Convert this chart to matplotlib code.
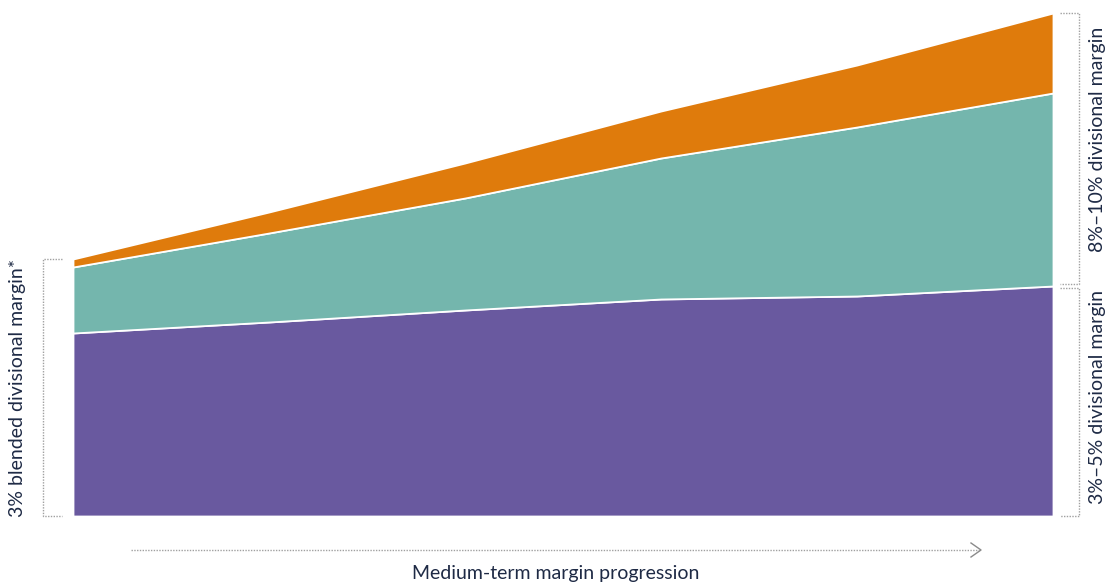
import matplotlib
matplotlib.use("Agg")
import matplotlib.pyplot as plt
from matplotlib.lines import Line2D

# ---- data (arbitrary units) ----
steps = [0, 1, 2, 3, 4, 5]
purple_layer = [183, 194, 206, 217, 220, 230]   # 3%-5% divisional margin base
teal_layer = [66, 89, 112, 141, 169, 193]
orange_layer = [8, 21, 35, 47, 62, 80]

left_label = "3% blended divisional margin*"
right_top_label = "8%\u201310% divisional margin"
right_bottom_label = "3%\u20135% divisional margin"
x_label = "Medium-term margin progression"

colors = ["#69599F", "#74B6AD", "#DF7B0C"]
text_color = "#1E2A45"
dot_color = "#A0A0A0"

W, H = 1108, 585
plt.rcParams['font.family'] = ['Lato', 'DejaVu Sans']
fig = plt.figure(figsize=(W / 100, H / 100), dpi=100)

x0, x1, yb = 73, 1053, 516
ax = fig.add_axes([x0 / W, (H - yb) / H, (x1 - x0) / W, yb / H])
ax.stackplot(steps, purple_layer, teal_layer, orange_layer, colors=colors,
             edgecolor="white", linewidth=1.3)
ax.set_xlim(steps[0], steps[-1])
ax.set_ylim(0, yb)
ax.axis("off")


def fx(px):
    return px / W


def fy(py):
    return (H - py) / H


def dline(xs, ys, **kw):
    fig.add_artist(Line2D([fx(v) for v in xs], [fy(v) for v in ys],
                          transform=fig.transFigure, color=dot_color,
                          linewidth=1.0, linestyle=(0, (1, 1)), **kw))


# pixel positions of stack tops for brackets
top_left = yb - (purple_layer[0] + teal_layer[0] + orange_layer[0])
top_right = yb - (purple_layer[-1] + teal_layer[-1] + orange_layer[-1])
mid_right = yb - purple_layer[-1]

# left bracket
dline([62, 43, 43, 62], [top_left, top_left, yb, yb])
# right brackets
dline([1060, 1079, 1079, 1060], [top_right, top_right, mid_right - 2, mid_right - 2])
dline([1060, 1079, 1079, 1060], [mid_right + 2, mid_right + 2, yb, yb])

fs = 14
fig.text(fx(18), fy(388), left_label, rotation=90,
         ha="center", va="center", fontsize=fs, color=text_color)
fig.text(fx(1097), fy(139), right_top_label, rotation=90,
         ha="center", va="center", fontsize=fs, color=text_color)
fig.text(fx(1097), fy(397), right_bottom_label, rotation=90,
         ha="center", va="center", fontsize=fs, color=text_color)

# arrow
dline([131, 979], [550, 550])
fig.add_artist(Line2D([fx(971), fx(981), fx(971)], [fy(543), fy(550), fy(557)],
                      transform=fig.transFigure, color="#8a8a8a", linewidth=1.0))
fig.text(fx(556), fy(574), x_label, ha="center", va="center",
         fontsize=fs, color=text_color)

fig.savefig("out.png", dpi=100)
